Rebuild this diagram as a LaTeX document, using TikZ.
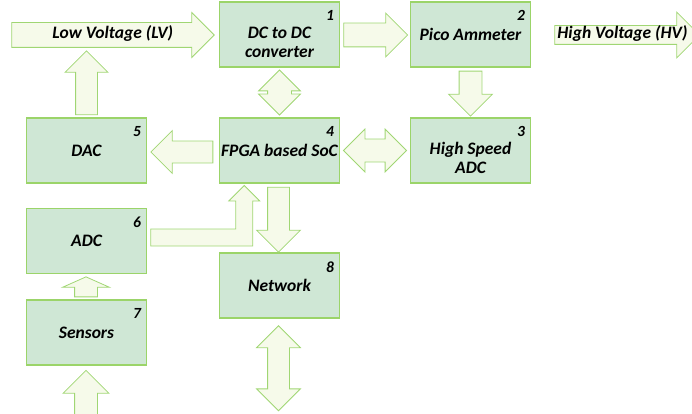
\documentclass[tikz,border=0pt]{standalone}
\usepackage{fontspec}
\setmainfont{Carlito}
\usetikzlibrary{shapes.arrows,calc}

\definecolor{boxfill}{RGB}{207,231,213}
\definecolor{boxline}{RGB}{155,212,105}
\definecolor{arrowfill}{RGB}{246,250,234}
\definecolor{arrowline}{RGB}{160,214,115}

\begin{document}
\begin{tikzpicture}[x=1pt, y=-1pt,
    block/.style={draw=boxline, fill=boxfill, line width=1.5pt,
      minimum width=120pt, minimum height=65pt, inner sep=0pt,
      font=\fontsize{17.5}{19}\selectfont\bfseries\itshape, align=center},
    twolines/.style={text height=50pt, text depth=4pt},
    num/.style={anchor=north east, inner sep=0pt, xshift=-6pt, yshift=-9pt,
      font=\fontsize{15.5}{17}\selectfont\bfseries\itshape},
    barrow/.style={single arrow, draw=arrowline, fill=arrowfill, line width=0.8pt,
      font=\fontsize{17.5}{19}\selectfont\bfseries\itshape},
    darrow/.style={double arrow, draw=arrowline, fill=arrowfill, line width=0.8pt},
    hshaft/.style={inner xsep=0pt, inner ysep=#1/2},
    vshaft/.style={inner ysep=0pt, inner xsep=#1/2}]
  \useasboundingbox (0,0) rectangle (692,414);

  % blocks, numbered in the top right corner
  \node[block, twolines, label={[num]north east:1}] (dcdc) at (279.5,34.5) {DC to DC\\converter};
  \node[block, label={[num]north east:2}] (pico)    at (470.5,34.5)  {Pico Ammeter};
  \node[block, twolines, label={[num]north east:3}] (hsadc) at (470.5,150.5) {High Speed\\ADC};
  \node[block, label={[num]north east:4}] (soc)     at (279.5,150.5) {FPGA based SoC};
  \node[block, label={[num]north east:5}] (dac)     at (86.5,150.5)  {DAC};
  \node[block, label={[num]north east:6}] (adc)     at (86.5,241)    {ADC};
  \node[block, label={[num]north east:7}] (sensors) at (86.5,332.5)  {Sensors};
  \node[block, label={[num]north east:8}] (network) at (279.5,285.5) {Network};

  % supply line: LV in, HV out
  \node[barrow, anchor=tip, minimum height=202.5pt, inner xsep=0pt, inner ysep=4pt,
    text height=12pt, text depth=4pt, single arrow head extend=10pt] (lv)
    at ($(dcdc.west)+(-4,0.5)$) {\hspace*{12pt}Low Voltage (LV)};
  \node[barrow, hshaft=23pt, anchor=tail, minimum height=64pt,
    single arrow head extend=10pt] (a12) at ($(dcdc.east)+(3,0.5)$) {};
  \node[barrow, anchor=tail, minimum height=145pt, inner xsep=0pt, inner ysep=1pt,
    text height=12pt, text depth=4pt, single arrow head extend=13.5pt] (hv)
    at ($(pico.east)+(23,0.5)$) {High Voltage (HV)};

  % vertical links
  \node[barrow, vshaft=22pt, anchor=tail, minimum height=45pt,
    single arrow head extend=10.5pt, shape border rotate=270] (a23) at ($(pico.south)+(0,3)$) {};
  \node[darrow, vshaft=23pt, minimum height=45pt,
    double arrow head extend=9pt, shape border rotate=90] (a14) at ($(dcdc.south)!0.5!(soc.north)$) {};
  \node[barrow, vshaft=21pt, anchor=tail, minimum height=64pt,
    single arrow head extend=10.5pt, shape border rotate=90] (a5) at ($(dac.north)+(0,-2)$) {};
  \node[barrow, vshaft=21pt, anchor=tail, minimum height=65pt,
    single arrow head extend=11pt, shape border rotate=270] (a48) at ($(soc.south)+(-1,3)$) {};
  \node[darrow, vshaft=21pt, minimum height=85pt,
    double arrow head extend=11pt, shape border rotate=90] (a8) at ($(network.south)+(-1,49.5)$) {};
  \node[barrow, vshaft=22pt, anchor=tail, minimum height=20pt, single arrow tip angle=132,
    single arrow head extend=12pt, shape border rotate=90] (a76) at ($(sensors.north)+(-0.5,-2)$) {};
  \node[barrow, vshaft=22pt, anchor=tip, minimum height=50pt,
    single arrow head extend=11.5pt, shape border rotate=90] (a7) at ($(sensors.south)+(-0.5,4)$) {};

  % horizontal links
  \node[darrow, hshaft=22pt, minimum height=63pt,
    double arrow head extend=10pt] (a34) at ($(soc.east)!0.5!(hsadc.west)$) {};
  \node[barrow, hshaft=21pt, anchor=tail, minimum height=62pt,
    single arrow head extend=10.5pt, shape border rotate=180] (a45) at ($(soc.west)+(-5.5,1.5)$) {};

  % ADC output bends up into the SoC
  \draw[draw=arrowline, fill=arrowfill, line width=0.8pt]
    ($(adc.east)+(3.5,-12)$) -- ++(85,0) -- ++(0,-28) -- ++(-7,0)
    -- ++(15.5,-15.5) -- ++(15.5,15.5) -- ++(-7,0) -- ++(0,45) -- ++(-102,0) -- cycle;
\end{tikzpicture}
\end{document}
